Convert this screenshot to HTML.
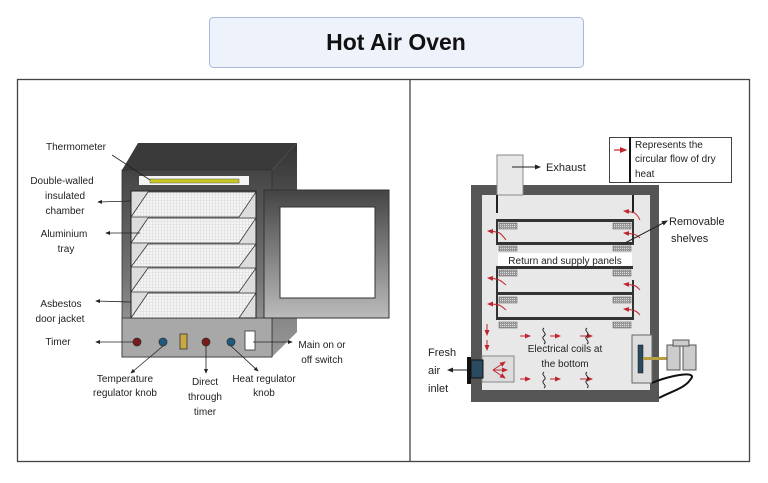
<!DOCTYPE html>
<html><head><meta charset="utf-8"><style>
body{margin:0;background:#fff;width:768px;height:478px;overflow:hidden;font-family:"Liberation Sans",sans-serif}
</style></head><body>
<svg width="768" height="478" viewBox="0 0 768 478" xmlns="http://www.w3.org/2000/svg" font-family="Liberation Sans, sans-serif">
<defs>
<pattern id="grid" width="3" height="3" patternUnits="userSpaceOnUse"><rect width="3" height="3" fill="#f4f4f4"/><path d="M3 0V3M0 3H3" stroke="#c8c8c8" stroke-width="0.6"/></pattern>
<pattern id="hat" width="2" height="2" patternUnits="userSpaceOnUse"><rect width="2" height="2" fill="#999"/><rect width="1" height="1" fill="#ddd"/></pattern>
<linearGradient id="door" x1="0" y1="0" x2="0" y2="1"><stop offset="0" stop-color="#444"/><stop offset="1" stop-color="#bbb"/></linearGradient>
<linearGradient id="side" x1="0" y1="0" x2="0" y2="1"><stop offset="0" stop-color="#333"/><stop offset="1" stop-color="#999"/></linearGradient>
<linearGradient id="front" x1="0" y1="0" x2="0" y2="1"><stop offset="0" stop-color="#444"/><stop offset="0.6" stop-color="#777"/><stop offset="1" stop-color="#aaa"/></linearGradient>
<marker id="ar" markerWidth="6" markerHeight="6" refX="5" refY="3" orient="auto"><path d="M0,0.5L6,3L0,5.5z" fill="#222"/></marker>
<marker id="rr" markerWidth="6" markerHeight="6" refX="5" refY="3" orient="auto"><path d="M0,0.5L6,3L0,5.5z" fill="#c0262d"/></marker>
</defs>
<rect x="209.5" y="17.5" width="374" height="50" rx="4" fill="#eef2fb" stroke="#a9b8dc"/>
<text x="396" y="50" text-anchor="middle" font-size="23" font-weight="bold" fill="#111">Hot Air Oven</text>
<rect x="17.5" y="79.5" width="732" height="382" fill="none" stroke="#444" stroke-width="1.3"/>
<line x1="410" y1="79" x2="410" y2="462" stroke="#444" stroke-width="1.3"/>

<polygon points="122,170 138,143 297,143 272,170" fill="#3a3a3a"/>
<polygon points="272,170 297,143 297,332 272,357" fill="url(#side)"/>
<rect x="122" y="170" width="150" height="187" fill="url(#front)" stroke="#333" stroke-width="0.8"/>
<rect x="122" y="318" width="150" height="39" fill="#a8a8a8" stroke="#333" stroke-width="0.8"/>
<rect x="139" y="176" width="110" height="9" fill="#f4f4f4"/>
<rect x="150" y="179" width="89" height="4" fill="#c8c820" stroke="#555" stroke-width="0.5"/>
<rect x="131" y="191" width="125" height="127" fill="#ddd" stroke="#222"/>
<g stroke="#333" stroke-width="0.8" fill="url(#grid)">
<polygon points="148,192 256,192 239,217 131,217"/>
<polygon points="148,218 256,218 239,243 131,243"/>
<polygon points="148,244 256,244 239,267 131,267"/>
<polygon points="148,268 256,268 239,292 131,292"/>
<polygon points="148,293 256,293 239,318 131,318"/>
</g>
<rect x="264" y="190" width="125" height="128" fill="url(#door)" stroke="#333"/>
<rect x="280" y="207" width="95" height="91" fill="#fff" stroke="#333"/>
<g stroke="#333" stroke-width="0.8">
<circle cx="137" cy="342" r="4" fill="#7a1a1a"/><circle cx="163" cy="342" r="4" fill="#1e5a80"/>
<rect x="180" y="334" width="7" height="15" fill="#c8a840"/>
<circle cx="206" cy="342" r="4" fill="#7a1a1a"/><circle cx="231" cy="342" r="4" fill="#1e5a80"/>
<rect x="245" y="331" width="10" height="19" fill="#fff"/>
</g>
<g font-size="10" fill="#222" text-anchor="middle">
<text x="76" y="150">Thermometer</text>
<text x="62" y="184">Double-walled</text><text x="65" y="199">insulated</text><text x="65" y="214">chamber</text>
<text x="64" y="237">Aluminium</text><text x="66" y="252">tray</text>
<text x="61" y="307">Asbestos</text><text x="60" y="322">door jacket</text>
<text x="58" y="345">Timer</text>
<text x="125" y="382">Temperature</text><text x="125" y="396">regulator knob</text>
<text x="205" y="385">Direct</text><text x="205" y="400">through</text><text x="205" y="415">timer</text>
<text x="264" y="382">Heat regulator</text><text x="264" y="396">knob</text>
<text x="322" y="348">Main on or</text><text x="322" y="363">off switch</text>
</g>
<g stroke="#222" stroke-width="0.8" fill="none">
<path d="M112,155 L150,180"/>
<path d="M131,201 L98,202" marker-end="url(#ar)"/>
<path d="M140,233 L106,233" marker-end="url(#ar)"/>
<path d="M131,302 L96,301" marker-end="url(#ar)"/>
<path d="M133,342 L96,342" marker-end="url(#ar)"/>
<path d="M163,346 L131,373" marker-end="url(#ar)"/>
<path d="M206,346 L206,373" marker-end="url(#ar)"/>
<path d="M231,346 L258,371" marker-end="url(#ar)"/>
<path d="M253,342 L292,342" marker-end="url(#ar)"/>
</g>

<rect x="471" y="185" width="188" height="217" fill="#555"/>
<rect x="482" y="195" width="168" height="195" fill="#e8e8e8"/>
<rect x="497" y="155" width="26" height="40" fill="#e8e8e8" stroke="#888"/>
<line x1="497" y1="195" x2="497" y2="213" stroke="#222" stroke-width="2"/>
<line x1="633" y1="195" x2="633" y2="213" stroke="#222" stroke-width="2"/>
<g fill="#333">
<rect x="497" y="219" width="136" height="3"/><rect x="497" y="242" width="136" height="3"/>
<rect x="497" y="266" width="136" height="3"/><rect x="497" y="292" width="136" height="3"/>
<rect x="497" y="317" width="136" height="3"/>
<rect x="496" y="219" width="2" height="26"/><rect x="496" y="266" width="2" height="54"/>
<rect x="632" y="219" width="2" height="26"/><rect x="632" y="280" width="2" height="40"/>
</g>
<g fill="url(#hat)" stroke="#555" stroke-width="0.5">
<rect x="499" y="223" width="18" height="6"/><rect x="613" y="223" width="18" height="6"/>
<rect x="499" y="246" width="18" height="5"/><rect x="613" y="246" width="18" height="5"/>
<rect x="499" y="270" width="18" height="6"/><rect x="613" y="270" width="18" height="6"/>
<rect x="499" y="297" width="18" height="6"/><rect x="613" y="297" width="18" height="6"/>
<rect x="499" y="322" width="18" height="6"/><rect x="613" y="322" width="18" height="6"/>
</g>
<rect x="498" y="253" width="134" height="13" fill="#fff"/>
<text x="565" y="264" text-anchor="middle" font-size="10" fill="#222">Return and supply panels</text>
<rect x="482" y="356" width="32" height="26" fill="#ddd" stroke="#888"/>
<rect x="467" y="357" width="4" height="27" fill="#111"/>
<rect x="471" y="360" width="12" height="18" fill="#2a4a60" stroke="#111"/>
<rect x="632" y="335" width="20" height="48" fill="#ddd" stroke="#666"/>
<rect x="638" y="345" width="5" height="28" fill="#2a4a60" stroke="#111" stroke-width="0.5"/>
<rect x="643" y="357" width="24" height="3" fill="#b8a040"/>
<rect x="667" y="345" width="13" height="25" fill="#ccc" stroke="#555"/>
<rect x="683" y="345" width="13" height="25" fill="#ccc" stroke="#555"/>
<rect x="673" y="340" width="16" height="6" fill="#ccc" stroke="#555"/>
<path d="M652,383 C670,375 700,370 690,380 C685,388 670,392 659,398" stroke="#111" stroke-width="2" fill="none"/>
<g stroke="#c0262d" stroke-width="1" fill="none" marker-end="url(#rr)">
<path d="M506,240 C500,232 500,232 488,231"/><path d="M506,285 C500,280 500,279 488,278"/><path d="M506,310 C500,305 500,304 488,304"/>
<path d="M640,220 C636,212 634,212 624,211"/><path d="M640,238 C636,234 634,234 624,233"/><path d="M640,290 C636,285 634,285 624,284"/><path d="M640,315 C636,310 634,310 624,309"/>
<path d="M487,324 L487,335"/><path d="M487,340 L487,350"/>
<path d="M520,336 L530,336"/><path d="M550,336 L560,336"/><path d="M580,336 L592,336"/>
<path d="M520,379 L530,379"/><path d="M550,379 L560,379"/><path d="M580,379 L592,379"/>
<path d="M493,370 L505,362"/><path d="M493,370 L507,370"/><path d="M493,370 L505,378"/>
</g>
<g stroke="#222" stroke-width="1" fill="none">
<path d="M544,328 c-4,3 4,5 0,8 c-4,3 4,5 0,8"/><path d="M587,328 c-4,3 4,5 0,8 c-4,3 4,5 0,8"/>
<path d="M544,372 c-4,3 4,5 0,8 c-4,3 4,5 0,8"/><path d="M587,372 c-4,3 4,5 0,8 c-4,3 4,5 0,8"/>
<path d="M512,167 L540,167" marker-end="url(#ar)"/>
<path d="M625,243 L667,221" marker-end="url(#ar)"/>
<path d="M467,370 L448,370" marker-end="url(#ar)"/>
</g>
<rect x="609.5" y="137.5" width="122" height="45" fill="#fff" stroke="#444"/>
<line x1="630" y1="137" x2="630" y2="183" stroke="#111" stroke-width="2"/>
<path d="M614,150 L626,150" stroke="#c0262d" stroke-width="1.2" marker-end="url(#rr)"/>
<g font-size="10" fill="#222">
<text x="635" y="148">Represents the</text><text x="635" y="162">circular flow of dry</text><text x="635" y="177">heat</text>
<text x="546" y="171" font-size="11">Exhaust</text>
<text x="669" y="225" font-size="11">Removable</text><text x="671" y="242" font-size="11">shelves</text>
<text x="565" y="352" text-anchor="middle">Electrical coils at</text><text x="565" y="367" text-anchor="middle">the bottom</text>
<text x="428" y="356" font-size="11">Fresh</text><text x="428" y="374" font-size="11">air</text><text x="428" y="392" font-size="11">inlet</text>
</g>
</svg>
</body></html>
